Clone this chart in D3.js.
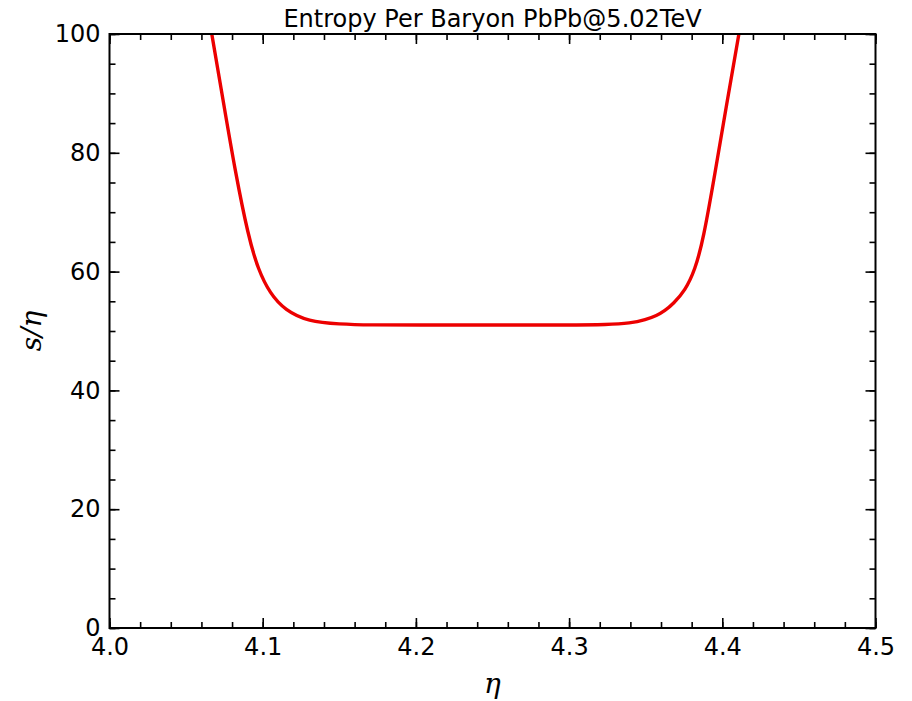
<!DOCTYPE html>
<html><head><meta charset="utf-8">
<script src="https://cdn.jsdelivr.net/npm/d3@7"></script>
<style>body{margin:0;background:#fff}</style>
</head><body><svg id="c" width="912" height="701"></svg>
<script>
const title = "Entropy Per Baryon PbPb@5.02TeV";
const etaValues = [4.058, 4.0668, 4.0747, 4.0819, 4.0906, 4.0971, 4.1048, 4.1146, 4.1298, 4.150, 4.170, 4.200, 4.250, 4.300, 4.325, 4.340, 4.350, 4.3572, 4.3625, 4.368, 4.3757, 4.3822, 4.3876, 4.3952, 4.4027, 4.4109, 4.418];
const snValues  = [113,   100,    88,     77.1,   65.9,   60.3,   56.3,   53.5,   51.6,   51.15, 51.0,  51.0,  51.0,  51.0,  51.05, 51.3,  51.9,  52.6,   53.4,   54.6,  56.8,   60.3,   65.4,   76.5,   88,     100,    111];
const xTicks = [4.0, 4.1, 4.2, 4.3, 4.4, 4.5];
const yTicks = [0, 20, 40, 60, 80, 100];

const L = 109.5, R = 875.5, T = 34, B = 628;
const svg = d3.select("#c");
const x = d3.scaleLinear().domain([4.0, 4.5]).range([L, R]);
const y = d3.scaleLinear().domain([0, 100]).range([B, T]);
const font = "DejaVu Sans, sans-serif";

svg.append("defs").append("clipPath").attr("id", "clip")
  .append("rect").attr("x", L).attr("y", T).attr("width", R - L).attr("height", B - T);

const data = etaValues.map((e, i) => ({e, s: snValues[i]}));
svg.append("path").datum(data)
  .attr("clip-path", "url(#clip)")
  .attr("fill", "none").attr("stroke", "#ec0000").attr("stroke-width", 3.4)
  .attr("stroke-linejoin", "round")
  .attr("d", d3.line().x(d => x(d.e)).y(d => y(d.s)).curve(d3.curveBasis));

const xMinor = d3.range(4.0, 4.5001, 0.02);
const yMinor = d3.range(0, 100.001, 5);

function styleAxis(g) {
  g.select(".domain").remove();
  g.selectAll(".tick line").attr("stroke", "#000").attr("stroke-width", 1.6);
  g.selectAll(".tick text").attr("font-family", font).attr("font-size", 24).attr("fill", "#000");
}
// bottom
svg.append("g").attr("transform", `translate(0,${B})`)
  .call(d3.axisBottom(x).tickValues(xMinor).tickSize(-6).tickFormat(""))
  .call(styleAxis);
svg.append("g").attr("transform", `translate(0,${B})`)
  .call(d3.axisBottom(x).tickValues(xTicks).tickSize(-10).tickPadding(10).tickFormat(d3.format(".1f")))
  .call(styleAxis);
// top
svg.append("g").attr("transform", `translate(0,${T})`)
  .call(d3.axisTop(x).tickValues(xMinor).tickSize(-6).tickFormat(""))
  .call(styleAxis);
svg.append("g").attr("transform", `translate(0,${T})`)
  .call(d3.axisTop(x).tickValues(xTicks).tickSize(-10).tickFormat(""))
  .call(styleAxis);
// left
svg.append("g").attr("transform", `translate(${L},0)`)
  .call(d3.axisLeft(y).tickValues(yMinor).tickSize(-6).tickFormat(""))
  .call(styleAxis);
svg.append("g").attr("transform", `translate(${L},0)`)
  .call(d3.axisLeft(y).tickValues(yTicks).tickSize(-10).tickPadding(9).tickFormat(d3.format("d")))
  .call(styleAxis);
// right
svg.append("g").attr("transform", `translate(${R},0)`)
  .call(d3.axisRight(y).tickValues(yMinor).tickSize(-6).tickFormat(""))
  .call(styleAxis);
svg.append("g").attr("transform", `translate(${R},0)`)
  .call(d3.axisRight(y).tickValues(yTicks).tickSize(-10).tickFormat(""))
  .call(styleAxis);

svg.append("rect").attr("x", L).attr("y", T).attr("width", R - L).attr("height", B - T)
  .attr("fill", "none").attr("stroke", "#000").attr("stroke-width", 2);

svg.append("text").attr("x", (L + R) / 2).attr("y", 27).attr("text-anchor", "middle")
  .attr("font-family", font).attr("font-size", 24).attr("fill", "#000").text(title);

svg.append("text").attr("x", (L + R) / 2).attr("y", 693).attr("text-anchor", "middle")
  .attr("font-family", "DejaVu Serif, serif").attr("font-style", "italic").attr("font-size", 28)
  .attr("fill", "#000").text("η");

svg.append("text").attr("transform", `translate(41,${(T + B) / 2}) rotate(-90)`).attr("text-anchor", "middle")
  .attr("font-family", "DejaVu Serif, serif").attr("font-style", "italic").attr("font-size", 28)
  .attr("fill", "#000").text("s/η");
</script></body></html>
